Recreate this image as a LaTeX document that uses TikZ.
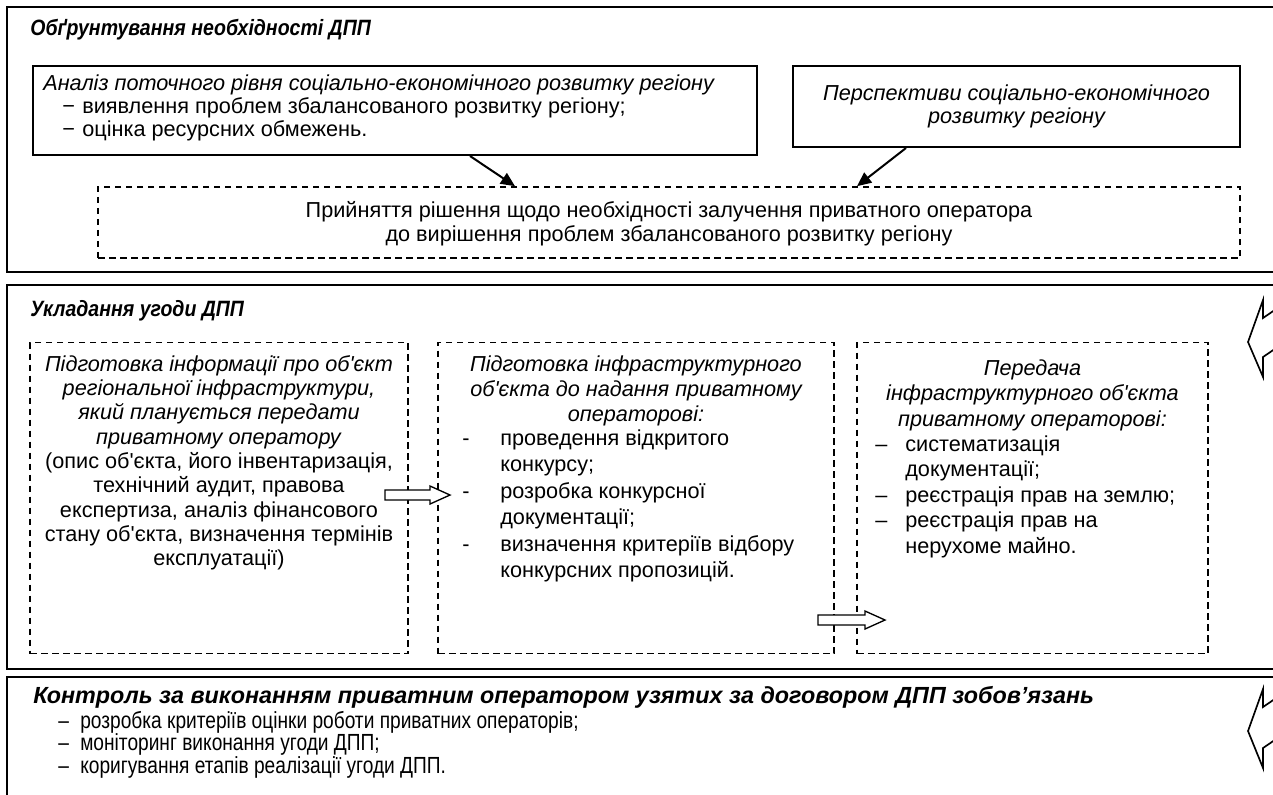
\documentclass[tikz,border=0pt]{standalone}
\usepackage{fontspec}
\setmainfont{Liberation Sans}[Ligatures=TeXOff]
\newfontfamily\condfont{Liberation Sans}[FakeStretch=0.88,Ligatures=TeXOff]
\newfontfamily\narrowfont{Liberation Sans}[FakeStretch=0.82,Ligatures=TeXOff]
\usepackage{xcolor}
\usepackage{tikz}
\usetikzlibrary{calc,arrows.meta}
\definecolor{ink}{HTML}{000000}
\def\u{0.6pt}
\tikzset{
  frame/.style={draw=ink, line width=1.3pt},
  solidbox/.style={draw=ink, line width=1.2pt, inner sep=0pt},
  dashbox/.style={draw=ink, line width=1pt, dash pattern=on 3.9pt off 2.7pt, inner sep=0pt},
  txt/.style={inner sep=0pt, text=ink, font=\fontsize{13}{13.8}\selectfont},
  txtd/.style={inner sep=0pt, text=ink, font=\fontsize{13}{14.6}\selectfont},
  head/.style={inner sep=0pt, text=ink, anchor=west, font=\condfont\bfseries\itshape\fontsize{13.3}{14}\selectfont},
  arr/.style={draw=ink, line width=1.2pt, -{Triangle[length=8.5pt,width=7.5pt]}},
  hollow/.style={draw=ink, line width=0.8pt, fill=white, line join=miter},
  zig/.style={draw=ink, line width=1pt, line join=miter},
}
\newcommand{\bul}[2]{\makebox[#1][l]{#2}}

\begin{document}
\begin{tikzpicture}[x=0.6pt, y=-0.6pt]
  \useasboundingbox (0,0) rectangle (1273,794);
  \clip (0,0) rectangle (1273,794);
  \draw[frame] (7,7) rectangle (1300,272);
  \draw[frame] (7,285) rectangle (1300,669);
  \draw[frame] (7,677) rectangle (1300,820);

  % stage 1
  \node[head] (t1) at (30,30) {Обґрунтування необхідності ДПП};
  \node[solidbox, minimum width=724*\u, minimum height=89*\u] (anal) at (395,110.5) {};
  \node[txt, anchor=north west, font=\fontsize{13}{13.8}\selectfont\itshape] (analt) at (43,74) {Аналіз поточного рівня соціально-економічного розвитку регіону};
  \node[txt, anchor=north west, align=left] (anall) at (62,97) {\bul{12pt}{−}виявлення проблем збалансованого розвитку регіону;\\
    \bul{12pt}{−}оцінка ресурсних обмежень.};
  \node[solidbox, minimum width=447*\u, minimum height=81*\u] (persp) at (1016.5,106.5) {};
  \node[txt, align=center, font=\fontsize{13}{13.8}\selectfont\itshape] (perspt) at (1016.5,106.5) {Перспективи соціально-економічного\\розвитку регіону};
  \node[dashbox, minimum width=1142*\u, minimum height=71*\u] (dec) at (669,222.5) {};
  \node[txt, align=center, font=\fontsize{13}{14.4}\selectfont] (dect) at (669,224) {Прийняття рішення щодо необхідності залучення приватного оператора\\до вирішення проблем збалансованого розвитку регіону};
  \draw[arr] ([xshift=75*\u]anal.south) -- ([xshift=-154*\u]dec.north);
  \draw[arr] ([xshift=-110.5*\u]persp.south) -- ([xshift=188*\u]dec.north);

  % stage 2
  \node[head] (t2) at (30,311) {Укладання угоди ДПП};
  \node[dashbox, minimum width=378*\u, minimum height=311*\u] (info) at (219,498) {};
  \node[dashbox, minimum width=396*\u, minimum height=311*\u] (ready) at (636,498) {};
  \node[dashbox, minimum width=351*\u, minimum height=311*\u] (hand) at (1032.5,498) {};
  \node[txtd, align=center, anchor=north] (infot) at (219,355) {\textit{Підготовка інформації про об'єкт}\\
    \textit{регіональної інфраструктури,}\\\textit{який планується передати}\\\textit{приватному оператору}\\
    (опис об'єкта, його інвентаризація,\\технічний аудит, правова\\експертиза, аналіз фінансового\\
    стану об'єкта, визначення термінів\\експлуатації)};
  \node[txtd, align=center, anchor=north, font=\fontsize{13}{15}\selectfont\itshape] (readyt) at (636,355) {Підготовка інфраструктурного\\об'єкта до надання приватному\\операторові:};
  \node[txtd, align=left, anchor=north west, font=\fontsize{13}{15.9}\selectfont] (readyl) at (462,429) {\bul{22.8pt}{-}проведення відкритого\\
    \bul{22.8pt}{}конкурсу;\\\bul{22.8pt}{-}розробка конкурсної\\\bul{22.8pt}{}документації;\\
    \bul{22.8pt}{-}визначення критеріїв відбору\\\bul{22.8pt}{}конкурсних пропозицій.};
  \node[txtd, align=center, anchor=north, font=\fontsize{13}{15.3}\selectfont\itshape] (handt) at (1032.5,359) {Передача\\інфраструктурного об'єкта\\приватному операторові:};
  \node[txtd, align=left, anchor=north west, font=\fontsize{13}{15.3}\selectfont] (handl) at (875,435) {\bul{18pt}{–}систематизація\\
    \bul{18pt}{}документації;\\\bul{18pt}{–}реєстрація прав на землю;\\\bul{18pt}{–}реєстрація прав на\\\bul{18pt}{}нерухоме майно.};
  \coordinate (h1) at (385,495);
  \draw[hollow] (h1) ++(0,-5) -- ++(45,0) -- ++(0,-4) -- ++(20,9) -- ++(-20,9) -- ++(0,-4) -- ++(-45,0) -- cycle;
  \coordinate (h2) at (818,620);
  \draw[hollow] (h2) ++(0,-5) -- ++(47,0) -- ++(0,-4) -- ++(20,9) -- ++(-20,9) -- ++(0,-4) -- ++(-47,0) -- cycle;
  \draw[zig] (1285,303) -- (1263,318) -- (1263,300) -- (1248,342) -- (1263,377) -- (1263,357) -- (1285,342);
  \draw[zig] (1285,692) -- (1263,707) -- (1263,689) -- (1248,731) -- (1263,768) -- (1263,748) -- (1285,733);

  % stage 3
  \node[head, font=\bfseries\itshape\fontsize{14}{15}\selectfont] (t3) at (33,697) {Контроль за виконанням приватним оператором узятих за договором ДПП зобов’язань};
  \node[txt, align=left, anchor=north west, font=\narrowfont\fontsize{14}{13.5}\selectfont] (ctrl) at (58,711) {\bul{13.2pt}{–}розробка критеріїв оцінки роботи приватних операторів;\\
    \bul{13.2pt}{–}моніторинг виконання угоди ДПП;\\\bul{13.2pt}{–}коригування етапів реалізації угоди ДПП.};
\end{tikzpicture}
\end{document}
